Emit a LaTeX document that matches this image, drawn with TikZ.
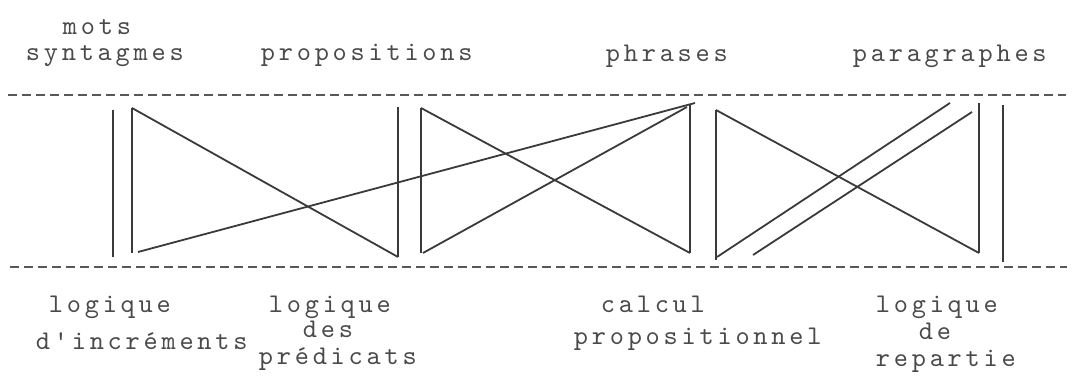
\documentclass[tikz,border=0pt]{standalone}
\usepackage{fontspec}
\usepackage{tikz}
\newfontfamily\typewr[Extension=.otf, LetterSpace=14]{lmmono10-regular}
\definecolor{ink}{HTML}{3A3A3A}
\definecolor{typeink}{HTML}{4A4A4A}

\begin{document}
\begin{tikzpicture}[x=0.5pt, y=-0.5pt, color=ink, line width=0.9pt,
  rule/.style={line width=1pt, dash pattern=on 4.5pt off 2.5pt, color=ink!85},
  every node/.style={font=\typewr\fontsize{13.5}{15}\selectfont, text=typeink, anchor=base west, inner sep=0pt}]
  \useasboundingbox (0,0) rectangle (1072,383);
  % levels on top
  \node (mots) at (62,35) {mots};
  \node (synt) at (25,61) {syntagmes};
  \node (prop) at (260,61) {propositions};
  \node (phr) at (605,62) {phrases};
  \node (para) at (852,62) {paragraphes};
  % logics below
  \node (li1) at (48,313) {logique};
  \node (li2) at (35,350) {d'incréments};
  \node (lp1) at (268,313) {logique};
  \node (lp2) at (302,338) {des};
  \node (lp3) at (258,365) {prédicats};
  \node (cp1) at (600,313) {calcul};
  \node (cp2) at (573,345) {propositionnel};
  \node (lr1) at (875,313) {logique};
  \node (lr2) at (918,340) {de};
  \node (lr3) at (875,367) {repartie};
  % the two rules
  \coordinate (TL) at (8,95);
  \coordinate (TR) at (1066,95);
  \coordinate (BL) at (10,267);
  \coordinate (BR) at (1067,267);
  \draw[rule] (TL) -- (TR);
  \draw[rule] (BL) -- (BR);
  % bars
  \coordinate (A1) at (113,110);  \coordinate (A2) at (113,257);
  \coordinate (B1) at (132,108);  \coordinate (B2) at (132,253);
  \coordinate (C1) at (398,107);  \coordinate (C2) at (398,257);
  \coordinate (D1) at (421,108);  \coordinate (D2) at (421,253);
  \coordinate (E1) at (690,105);  \coordinate (E2) at (690,253);
  \coordinate (F1) at (716,110);  \coordinate (F2) at (716,260);
  \coordinate (G1) at (979,103);  \coordinate (G2) at (979,253);
  \coordinate (H1) at (1003,105); \coordinate (H2) at (1003,262);
  \draw (A1) -- (A2);
  \draw (B1) -- (B2);
  \draw (C1) -- (C2);
  \draw (D1) -- (D2);
  \draw (E1) -- (E2);
  \draw (F1) -- (F2);
  \draw (G1) -- (G2);
  \draw (H1) -- (H2);
  % crossings
  \coordinate (P1) at (138,252);  \coordinate (P2) at (695,103);
  \coordinate (Q1) at (423,253);  \coordinate (Q2) at (687,107);
  \coordinate (R1) at (717,257);  \coordinate (R2) at (950,103);
  \coordinate (S1) at (753,255);  \coordinate (S2) at (972,112);
  \draw (B1) -- (C2);
  \draw (P1) -- (P2);
  \draw (D1) -- (E2);
  \draw (Q1) -- (Q2);
  \draw (F1) -- (G2);
  \draw (R1) -- (R2);
  \draw (S1) -- (S2);
\end{tikzpicture}
\end{document}
